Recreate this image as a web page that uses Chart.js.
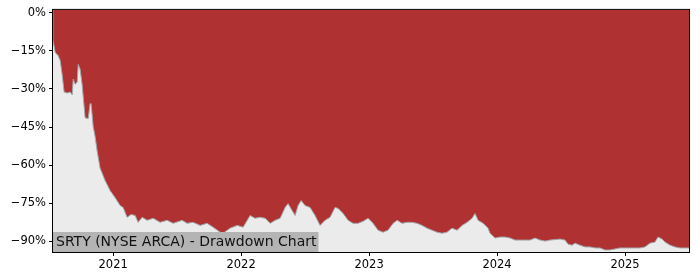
<!DOCTYPE html>
<html>
<head>
<meta charset="utf-8">
<script src="https://cdn.jsdelivr.net/npm/chart.js@4/dist/chart.umd.min.js"></script>
<style>
  html, body { margin: 0; padding: 0; background: #fff; }
  #wrap { width: 700px; height: 280px; }
</style>
</head>
<body>
<div id="wrap"><canvas id="ddChart" width="700" height="280"></canvas></div>
<script>
// dates as fractional years, drawdown in percent
const years = [
  2020.531, 2020.547, 2020.563, 2020.570, 2020.586, 2020.602, 2020.617, 2020.641, 2020.664, 2020.680,
  2020.688, 2020.703, 2020.719, 2020.727, 2020.742, 2020.758, 2020.781, 2020.805, 2020.820, 2020.828,
  2020.844, 2020.859, 2020.875, 2020.898, 2020.938, 2020.977, 2021.016, 2021.055, 2021.078, 2021.109,
  2021.141, 2021.172, 2021.195, 2021.227, 2021.266, 2021.313, 2021.367, 2021.422, 2021.469, 2021.539,
  2021.578, 2021.625, 2021.680, 2021.734, 2021.781, 2021.836, 2021.859, 2021.914, 2021.969, 2022.016,
  2022.070, 2022.109, 2022.148, 2022.188, 2022.227, 2022.266, 2022.305, 2022.344, 2022.367, 2022.398,
  2022.422, 2022.445, 2022.469, 2022.500, 2022.539, 2022.578, 2022.617, 2022.656, 2022.695, 2022.734,
  2022.758, 2022.797, 2022.836, 2022.875, 2022.914, 2022.953, 2022.992, 2023.031, 2023.070, 2023.109,
  2023.148, 2023.188, 2023.219, 2023.258, 2023.297, 2023.336, 2023.375, 2023.414, 2023.453, 2023.492,
  2023.531, 2023.570, 2023.609, 2023.648, 2023.688, 2023.727, 2023.766, 2023.805, 2023.828, 2023.852,
  2023.891, 2023.930, 2023.945, 2023.984, 2024.023, 2024.063, 2024.102, 2024.141, 2024.180, 2024.219,
  2024.258, 2024.297, 2024.336, 2024.375, 2024.414, 2024.492, 2024.531, 2024.555, 2024.586, 2024.609,
  2024.648, 2024.688, 2024.727, 2024.766, 2024.805, 2024.844, 2024.883, 2024.922, 2024.961, 2025.016,
  2025.063, 2025.117, 2025.156, 2025.195, 2025.234, 2025.258, 2025.289, 2025.313, 2025.352, 2025.391,
  2025.430, 2025.469, 2025.500
];
const drawdown = [
  -11.0, -15.6, -16.4, -16.8, -18.7, -24.5, -31.2, -31.6, -31.2, -32.3,
  -26.1, -28.1, -27.3, -20.3, -22.2, -28.4, -41.3, -41.7, -35.8, -35.8,
  -44.8, -48.7, -54.5, -61.2, -66.2, -70.1, -72.9, -76.0, -76.7, -80.6,
  -79.5, -79.9, -82.6, -80.6, -81.8, -81.0, -82.6, -81.8, -83.0, -81.8,
  -83.0, -82.6, -83.8, -83.0, -84.5, -86.5, -86.9, -84.9, -83.8, -84.5,
  -79.9, -81.0, -80.6, -81.0, -83.0, -81.8, -81.0, -76.7, -75.2, -77.9,
  -79.9, -76.0, -74.0, -76.0, -76.7, -79.9, -83.8, -81.8, -80.6, -76.7,
  -77.1, -79.1, -81.8, -83.0, -83.0, -82.2, -81.0, -83.0, -85.7, -86.5,
  -85.7, -83.0, -81.8, -83.0, -82.6, -82.6, -83.0, -83.8, -84.9, -85.7,
  -86.5, -86.9, -86.5, -84.9, -85.7, -83.8, -82.6, -81.0, -79.1, -81.8,
  -83.0, -84.9, -86.9, -88.8, -88.4, -88.4, -88.8, -89.6, -89.6, -89.6,
  -89.6, -88.8, -89.6, -90.0, -89.6, -89.2, -89.6, -91.2, -91.6, -90.8,
  -91.6, -92.3, -92.3, -92.7, -92.7, -93.5, -93.5, -93.1, -92.7, -92.7,
  -92.7, -92.7, -92.3, -90.8, -90.4, -88.4, -89.2, -90.4, -91.6, -92.3,
  -92.7, -92.7, -92.7
];
const yTicks = [0, -15, -30, -45, -60, -75, -90];
const xTicks = [2021, 2022, 2023, 2024, 2025];
const chartLabel = 'SRTY (NYSE ARCA) - Drawdown Chart';

const points = years.map((x, i) => ({ x: x, y: drawdown[i] }));

// plot background, frame and caption box
const framePlugin = {
  id: 'frame',
  beforeDatasetsDraw(chart) {
    const a = chart.chartArea, ctx = chart.ctx;
    ctx.save();
    ctx.fillStyle = '#ebebeb';
    ctx.fillRect(a.left, a.top, a.right - a.left, a.bottom - a.top);
    ctx.restore();
  },
  afterDatasetsDraw(chart) {
    const a = chart.chartArea, ctx = chart.ctx;
    ctx.save();
    ctx.font = '14px "DejaVu Sans"';
    const w = ctx.measureText(chartLabel).width;
    ctx.fillStyle = '#b4b4b4';
    ctx.fillRect(a.left, a.bottom - 20, w + 5, 20);
    ctx.fillStyle = '#111';
    ctx.textBaseline = 'middle';
    ctx.fillText(chartLabel, a.left + 3, a.bottom - 9.5);
    ctx.strokeStyle = '#000';
    ctx.lineWidth = 1;
    ctx.strokeRect(a.left - 0.5, a.top - 0.5, a.right - a.left + 1, a.bottom - a.top + 1);
    ctx.restore();
  }
};

const config = {
  type: 'line',
  data: {
    datasets: [{
      data: points,
      borderColor: '#a0a6aa',
      borderWidth: 1,
      backgroundColor: '#b03131',
      fill: 'end',
      pointRadius: 0,
      tension: 0
    }]
  },
  options: {
    responsive: false,
    animation: false,
    layout: { padding: { left: 0, right: 11, top: 7, bottom: 0 } },
    plugins: { legend: { display: false }, tooltip: { enabled: false } },
    scales: {
      x: {
        type: 'linear',
        min: 2020.53,
        max: 2025.5,
        afterBuildTicks: (s) => { s.ticks = xTicks.map(v => ({ value: v })); },
        afterFit: (s) => { s.height = 28; },
        ticks: {
          color: '#000',
          font: { family: 'DejaVu Sans', size: 11.5 },
          padding: 2,
          maxRotation: 0,
          callback: (v) => String(v)
        },
        grid: { drawOnChartArea: false, drawTicks: true, tickLength: 4, color: '#000' },
        border: { display: true, color: '#000' }
      },
      y: {
        min: -94.3,
        max: 1.2,
        afterBuildTicks: (s) => { s.ticks = yTicks.map(v => ({ value: v })); },
        afterFit: (s) => { s.width = 53; },
        ticks: {
          color: '#000',
          font: { family: 'DejaVu Sans', size: 11.5 },
          padding: 3,
          callback: (v) => (v < 0 ? '\u2212' + Math.abs(v) : v) + '%'
        },
        grid: { drawOnChartArea: false, drawTicks: true, tickLength: 4, color: '#000' },
        border: { display: true, color: '#000' }
      }
    }
  },
  plugins: [framePlugin]
};

const ddChart = new Chart(document.getElementById('ddChart'), config);
</script>
</body>
</html>
